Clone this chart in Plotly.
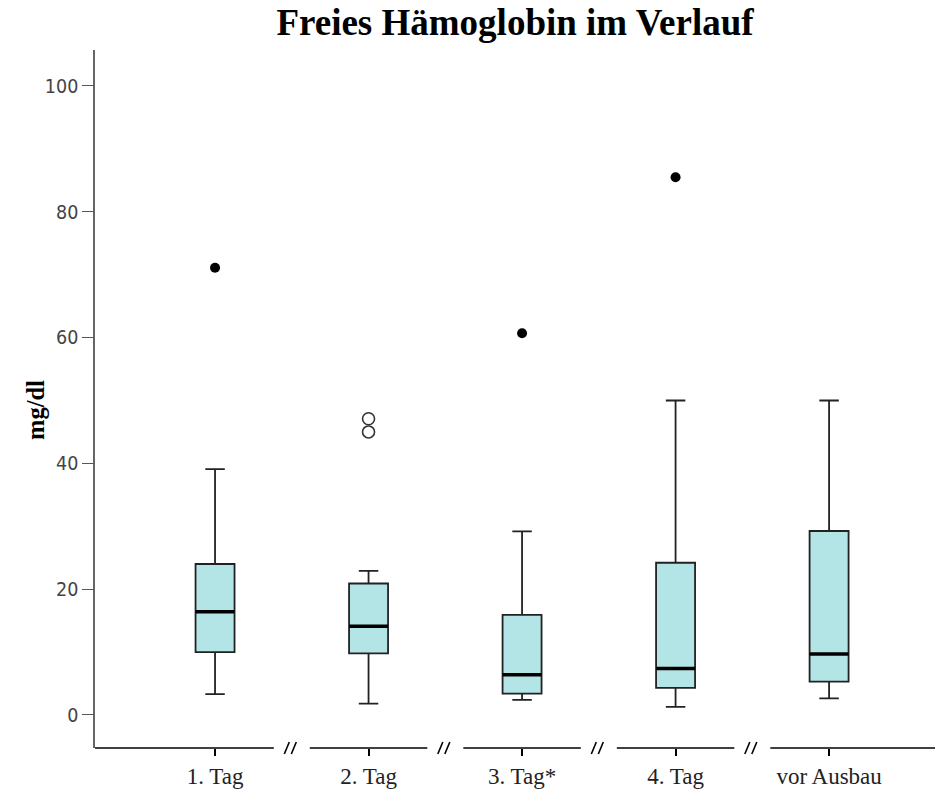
import plotly.graph_objects as go

# ---- data ----
categories = ["1. Tag", "2. Tag", "3. Tag*", "4. Tag", "vor Ausbau"]
lower_whisker = [3.3, 1.8, 2.4, 1.3, 2.65]
q1_values = [10.0, 9.8, 3.4, 4.3, 5.3]
median_values = [16.4, 14.1, 6.4, 7.4, 9.7]
q3_values = [24.0, 20.9, 15.9, 24.2, 29.25]
upper_whisker = [39.1, 22.9, 29.2, 50.0, 50.0]
outlier_cat = [0, 2, 3]
outlier_val = [71.1, 60.7, 85.5]
open_outlier_cat = [1, 1]
open_outlier_val = [47.1, 45.0]
y_ticks = [0, 20, 40, 60, 80, 100]

# ---- style ----
FILL = "#b4e5e6"
BOX_W = 0.254
PX_X = 1 / 153.5          # data units per pixel on x
PLOT_H = 698
PLOT_W = 840
X_RANGE = [-0.782, 4.69]
Y_RANGE = [-5.25, 105.72]

xpos = list(range(len(categories)))

fig = go.Figure()
fig.add_trace(go.Box(
    x=xpos, q1=q1_values, median=median_values, q3=q3_values,
    lowerfence=lower_whisker, upperfence=upper_whisker,
    width=BOX_W, whiskerwidth=0.5, fillcolor=FILL,
    line=dict(color="#222", width=1.8), boxpoints=False,
    showlegend=False, hoverinfo="skip"))

# thick median lines
mx, my = [], []
for i, m in zip(xpos, median_values):
    mx += [i - BOX_W / 2, i + BOX_W / 2, None]
    my += [m, m, None]
fig.add_trace(go.Scatter(x=mx, y=my, mode="lines",
                         line=dict(color="black", width=3.5),
                         showlegend=False, hoverinfo="skip"))

# outliers
fig.add_trace(go.Scatter(x=outlier_cat, y=outlier_val, mode="markers",
                         marker=dict(color="black", size=10),
                         showlegend=False, hoverinfo="skip"))
fig.add_trace(go.Scatter(x=open_outlier_cat, y=open_outlier_val, mode="markers",
                         marker=dict(symbol="circle-open", color="#333", size=12,
                                     line=dict(width=1.6)),
                         showlegend=False, hoverinfo="skip"))

# broken x axis line with // marks
shapes = []
gap = 18 * PX_X
breaks = [i + 0.5 for i in xpos[:-1]]
edges = [X_RANGE[0]] + [v for b in breaks for v in (b - gap, b + gap)] + [X_RANGE[1]]
for a, b in zip(edges[0::2], edges[1::2]):
    shapes.append(dict(type="line", xref="x", yref="paper", x0=a, x1=b, y0=0, y1=0,
                       line=dict(color="black", width=1.6)))
dy = 6 / PLOT_H
for b in breaks:
    for off in (-3.5, 3.5):
        c = b + off * PX_X - 1.5 * PX_X
        shapes.append(dict(type="line", xref="x", yref="paper",
                           x0=c - 2.5 * PX_X, x1=c + 2.5 * PX_X, y0=-dy, y1=dy,
                           line=dict(color="black", width=1.6)))

fig.update_layout(
    width=941, height=791,
    margin=dict(l=95, r=6, t=50, b=43, autoexpand=False),
    paper_bgcolor="white", plot_bgcolor="white",
    title=dict(text="<b>Freies Hämoglobin im Verlauf</b>", x=0.5, xref="paper",
               y=0.972, yanchor="middle", xanchor="center",
               font=dict(family="Liberation Serif", size=37, color="black")),
    shapes=shapes,
    annotations=[dict(text="<b>mg/dl</b>", xref="paper", yref="paper",
                      x=-60 / PLOT_W, y=(748 - 410) / PLOT_H, textangle=-90,
                      showarrow=False, xanchor="center", yanchor="middle",
                      font=dict(family="Liberation Serif", size=24.5, color="black"))],
    xaxis=dict(range=X_RANGE, tickmode="array", tickvals=xpos, ticktext=categories,
               showline=False, showgrid=False, zeroline=False, automargin=False,
               ticks="outside", ticklen=7, tickwidth=1.6, tickcolor="black",
               tickfont=dict(family="Liberation Serif", size=23, color="#222")),
    yaxis=dict(range=Y_RANGE, tickmode="array", tickvals=y_ticks,
               showline=True, linecolor="#666", linewidth=1.6, automargin=False,
               showgrid=False, zeroline=False,
               ticks="outside", ticklen=11, tickwidth=1.4, tickcolor="#555",
               tickfont=dict(family="DejaVu Sans Condensed", size=19.5, color="#444")),
)

fig.write_html("out.html")
